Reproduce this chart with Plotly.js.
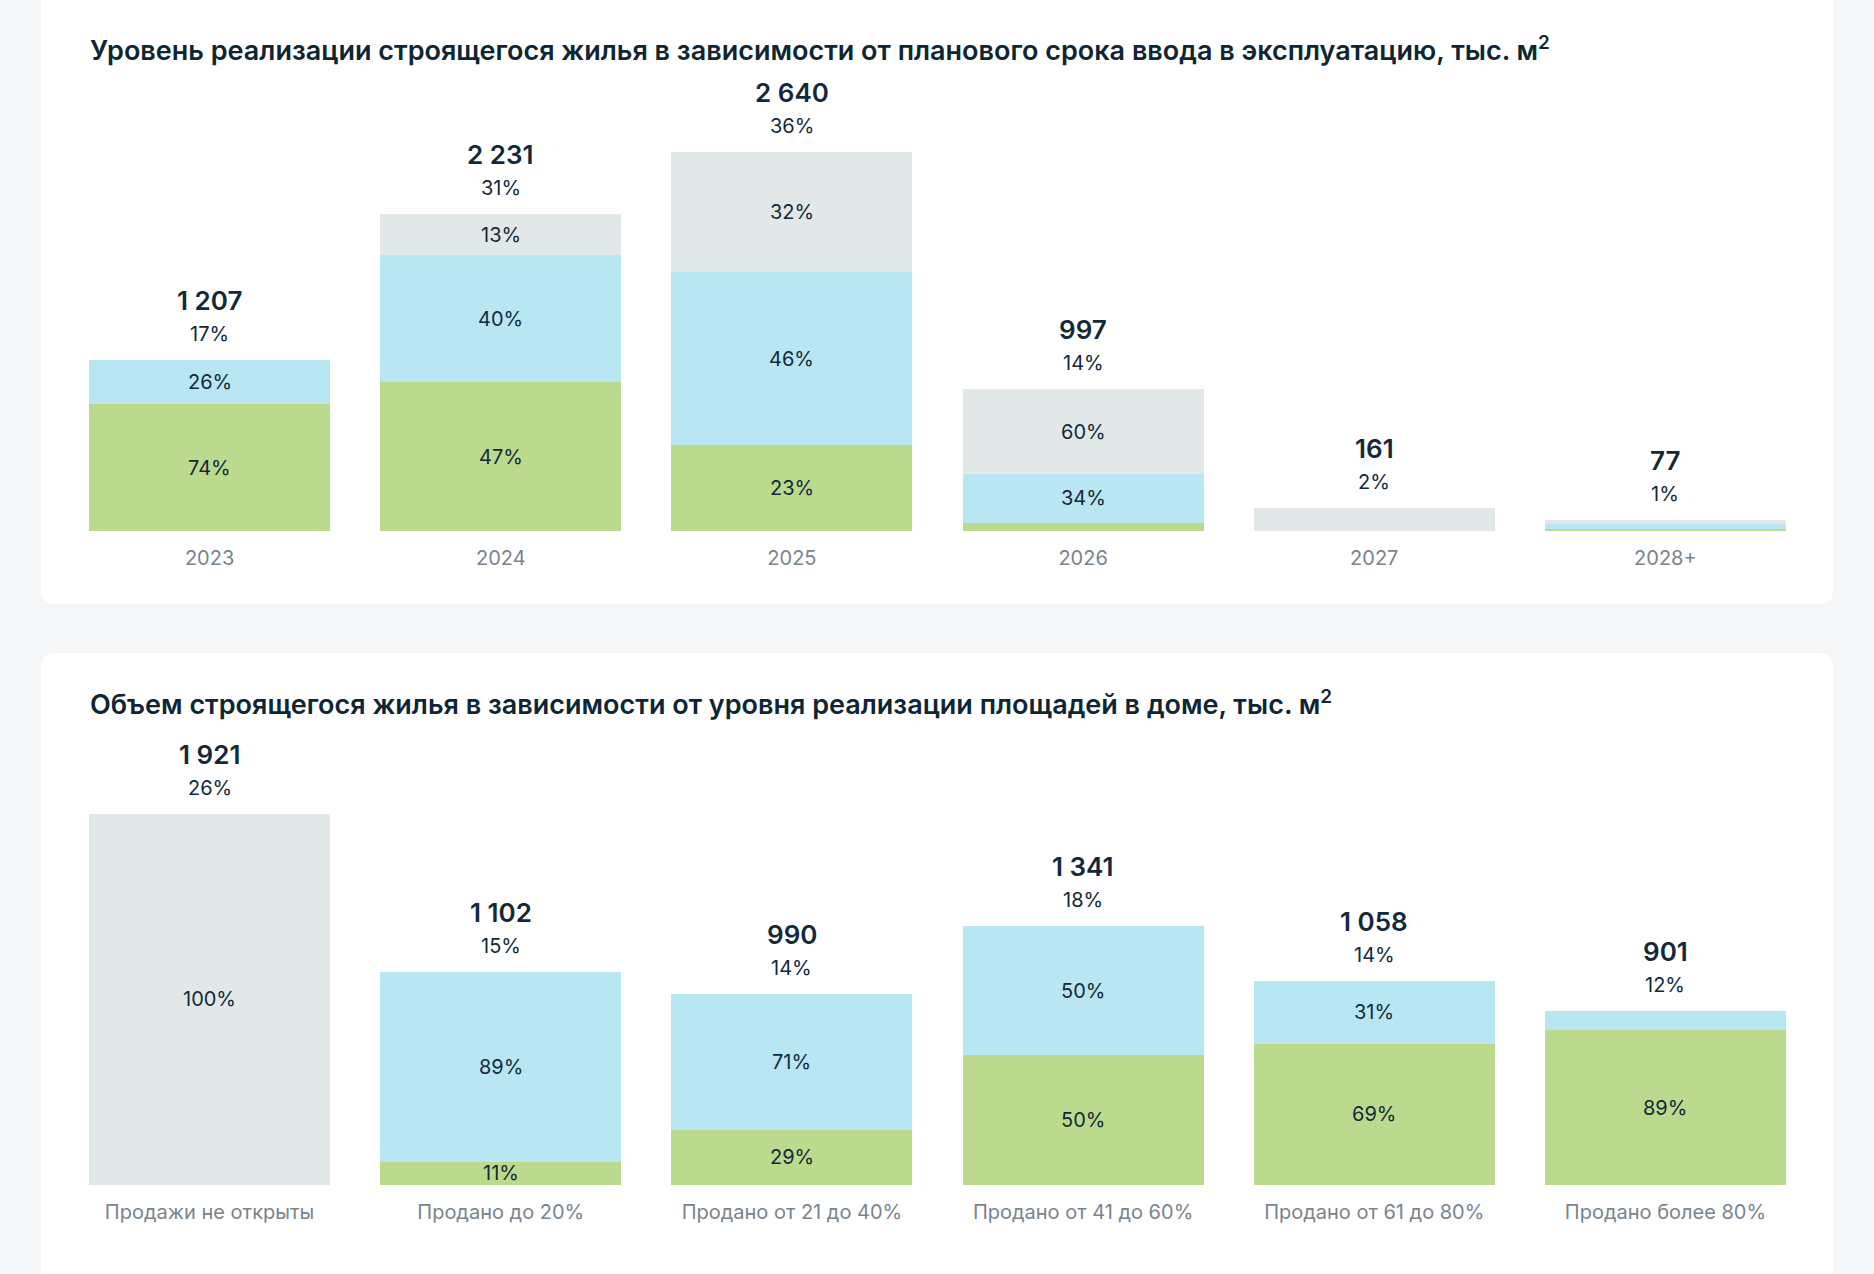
<!DOCTYPE html>
<html>
<head>
<meta charset="utf-8">
<script src="https://cdn.plot.ly/plotly-3.0.1.min.js"></script>
<style>
html, body { margin:0; padding:0; width:1874px; height:1274px; overflow:hidden; background:#f5f6f8; }
.card { position:absolute; left:41px; width:1792px; background:#ffffff; border-radius:12px; }
#card1 { top:-20px; height:624px; }
#card2 { top:653px; height:700px; }
.plot { position:absolute; left:0; width:1874px; }
#chart1 { top:0; height:604px; }
#chart2 { top:653px; height:621px; }
</style>
</head>
<body>
<div class="card" id="card1"></div>
<div class="card" id="card2"></div>
<div class="plot" id="chart1"></div>
<div class="plot" id="chart2"></div>
<script>
// ---------- Chart 1: by planned commissioning year ----------
const title1 = 'Уровень реализации строящегося жилья в зависимости от планового срока ввода в эксплуатацию, тыс. м<sup>2</sup>';
const years = ['2023', '2024', '2025', '2026', '2027', '2028+'];
const totals1 = [1207, 2231, 2640, 997, 161, 77];
const share1 = [17, 31, 36, 14, 2, 1];
const sold1 = [74, 47, 23, 6, 0, 17];
const unsold1 = [26, 40, 46, 34, 0, 50];
const closed1 = [0, 13, 32, 60, 100, 33];
const soldShown1 = [true, true, true, false, false, false];
const unsoldShown1 = [true, true, true, true, false, false];
const closedShown1 = [false, true, true, true, false, false];

// ---------- Chart 2: by sales level in the building ----------
const title2 = 'Объем строящегося жилья в зависимости от уровня реализации площадей в доме, тыс. м<sup>2</sup>';
const levels = ['Продажи не открыты', 'Продано до 20%', 'Продано от 21 до 40%', 'Продано от 41 до 60%', 'Продано от 61 до 80%', 'Продано более 80%'];
const totals2 = [1921, 1102, 990, 1341, 1058, 901];
const share2 = [26, 15, 14, 18, 14, 12];
const sold2 = [0, 11, 29, 50, 69, 89];
const unsold2 = [0, 89, 71, 50, 31, 11];
const closed2 = [100, 0, 0, 0, 0, 0];
const soldShown2 = [false, true, true, true, true, true];
const unsoldShown2 = [false, true, true, true, true, false];
const closedShown2 = [true, false, false, false, false, false];

const seriesNames = ['Продано', 'Не продано', 'Продажи не открыты'];
const COLORS = ['#bcda8d', '#b8e6f3', '#e2e8e8'];
const DARK = '#13293a';
const FONT = 'Inter, "Noto Sans", "Open Sans", sans-serif';

function fmt(n) { return String(n).replace(/\B(?=(\d{3})+(?!\d))/g, ' '); }

function build(divId, cats, totals, shares, pcts, shown, title, opts) {
  const segVals = pcts.map(arr => arr.map((p, i) => totals[i] * p / 100));
  const traces = segVals.map((vals, k) => ({
    type: 'bar', x: cats, y: vals, name: seriesNames[k],
    marker: { color: COLORS[k], line: { width: 0 } },
    hoverinfo: 'none'
  }));
  const ann = [];
  cats.forEach((c, i) => {
    let base = 0;
    segVals.forEach((vals, k) => {
      const v = vals[i];
      if (shown[k][i] && v > 0) {
        ann.push({ x: i, y: base + v / 2, xref: 'x', yref: 'y', text: pcts[k][i] + '%',
          showarrow: false, yanchor: 'middle', font: { size: 20, color: DARK, family: FONT } });
      }
      base += v;
    });
    ann.push({ x: i, y: base, xref: 'x', yref: 'y', text: fmt(totals[i]), showarrow: false,
      yanchor: 'middle', yshift: 59.5, font: { size: 26, color: DARK, family: FONT, weight: 600 } });
    ann.push({ x: i, y: base, xref: 'x', yref: 'y', text: shares[i] + '%', showarrow: false,
      yanchor: 'middle', yshift: 26, font: { size: 20, color: DARK, family: FONT } });
  });
  const layout = {
    width: 1874, height: opts.height,
    margin: { l: 63.8, r: 63.2, t: opts.t, b: opts.b, pad: 0 },
    paper_bgcolor: 'rgba(0,0,0,0)', plot_bgcolor: 'rgba(0,0,0,0)',
    barmode: 'stack', bargap: 0.172, showlegend: false,
    font: { family: FONT, color: DARK },
    title: { text: title, font: { size: 27, weight: 600, color: '#0e2633', family: FONT },
      x: 90 / 1874, xref: 'container', xanchor: 'left',
      y: 1 - opts.titleY / opts.height, yref: 'container', yanchor: 'middle' },
    xaxis: { type: 'category', range: [-0.5, cats.length - 0.5], autorange: false,
      tickfont: { size: 20, color: '#7a848b', family: FONT },
      ticks: '', showline: false, showgrid: false, zeroline: false, fixedrange: true,
      ticklabelstandoff: opts.standoff },
    yaxis: { range: [0, opts.ymax], autorange: false, visible: false, fixedrange: true },
    annotations: ann,
    hovermode: false
  };
  Plotly.newPlot(divId, traces, layout, { displayModeBar: false, staticPlot: true });
}

build('chart1', years, totals1, share1, [sold1, unsold1, closed1],
  [soldShown1, unsoldShown1, closedShown1], title1,
  { height: 604, t: 104.7, b: 73.3, ymax: 3000, titleY: 51, standoff: 13 });

build('chart2', levels, totals2, share2, [sold2, unsold2, closed2],
  [soldShown2, unsoldShown2, closedShown2], title2,
  { height: 621, t: 107.1, b: 89.3, ymax: 2200, titleY: 52, standoff: 13 });
</script>
</body>
</html>
